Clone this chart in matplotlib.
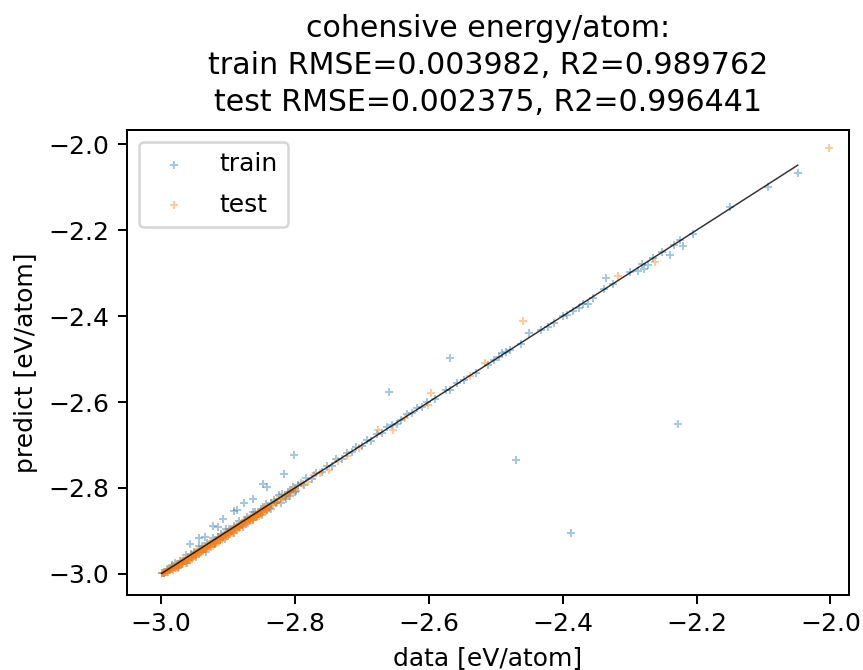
import numpy as np
import matplotlib
matplotlib.use('Agg')
import matplotlib.pyplot as plt

# cohesive energy per atom: DFT value (data) vs. model prediction (predict), eV/atom
train_data = [
    -2.999, -2.995, -2.991, -2.987, -2.983, -2.979, -2.975, -2.971, -2.967, -2.963,
    -2.959, -2.955, -2.951, -2.947, -2.943, -2.939, -2.935, -2.931, -2.927, -2.923,
    -2.919, -2.915, -2.911, -2.907, -2.903, -2.899, -2.895, -2.891, -2.887, -2.883,
    -2.879, -2.875, -2.871, -2.867, -2.863, -2.859, -2.855, -2.851, -2.847, -2.843,
    -2.839, -2.835, -2.831, -2.827, -2.823, -2.819, -2.815, -2.811, -2.807, -2.803,
    -2.799, -2.795, -2.791, -2.787, -2.783,
    -2.996, -2.989, -2.982, -2.975, -2.968, -2.961, -2.954, -2.947, -2.940, -2.933,
    -2.926, -2.919, -2.912, -2.905, -2.898, -2.891, -2.884, -2.877, -2.870, -2.863,
    -2.856, -2.849, -2.842, -2.835, -2.828, -2.821, -2.814, -2.807, -2.800,
    -2.801, -2.817, -2.848, -2.841, -2.862, -2.876, -2.886, -2.891, -2.907, -2.922,
    -2.943, -2.956, -2.935, -2.915,
    -2.775, -2.768, -2.760, -2.752, -2.745, -2.738, -2.730, -2.722, -2.715, -2.708,
    -2.700, -2.692, -2.686, -2.678, -2.670, -2.662, -2.655, -2.648, -2.641, -2.632,
    -2.625, -2.617, -2.610, -2.602, -2.590, -2.575, -2.569, -2.558, -2.548, -2.530,
    -2.512, -2.502, -2.495, -2.490, -2.484, -2.478, -2.462, -2.450, -2.432, -2.422,
    -2.413, -2.400, -2.394, -2.385, -2.376, -2.370, -2.362, -2.355, -2.338, -2.335,
    -2.325, -2.300, -2.288, -2.282, -2.279, -2.273, -2.265, -2.251, -2.240, -2.234,
    -2.225, -2.220, -2.206, -2.150, -2.093, -2.049,
    -2.569, -2.660, -2.470, -2.227, -2.388,
]
train_pred = [
    -2.999, -2.998, -2.989, -2.989, -2.979, -2.975, -2.981, -2.969, -2.970, -2.957,
    -2.967, -2.954, -2.948, -2.952, -2.936, -2.935, -2.941, -2.929, -2.930, -2.917,
    -2.927, -2.914, -2.908, -2.912, -2.896, -2.895, -2.901, -2.889, -2.890, -2.877,
    -2.887, -2.874, -2.868, -2.872, -2.856, -2.855, -2.861, -2.849, -2.850, -2.837,
    -2.847, -2.834, -2.828, -2.832, -2.816, -2.815, -2.821, -2.809, -2.810, -2.797,
    -2.807, -2.794, -2.788, -2.792, -2.776,
    -2.999, -2.995, -2.991, -2.987, -2.977, -2.975, -2.964, -2.960, -2.948, -2.948,
    -2.937, -2.931, -2.921, -2.919, -2.908, -2.904, -2.892, -2.892, -2.881, -2.875,
    -2.865, -2.863, -2.852, -2.848, -2.836, -2.836, -2.825, -2.819, -2.809,
    -2.723, -2.768, -2.791, -2.797, -2.826, -2.836, -2.851, -2.853, -2.872, -2.888,
    -2.917, -2.930, -2.915, -2.892,
    -2.778, -2.765, -2.762, -2.750, -2.748, -2.733, -2.732, -2.719, -2.717, -2.705,
    -2.702, -2.688, -2.690, -2.675, -2.672, -2.659, -2.654, -2.651, -2.642, -2.629,
    -2.626, -2.615, -2.612, -2.600, -2.592, -2.572, -2.573, -2.555, -2.549, -2.532,
    -2.514, -2.502, -2.495, -2.487, -2.483, -2.480, -2.464, -2.440, -2.433, -2.425,
    -2.416, -2.401, -2.398, -2.388, -2.382, -2.371, -2.371, -2.357, -2.338, -2.311,
    -2.326, -2.298, -2.295, -2.278, -2.291, -2.281, -2.264, -2.250, -2.258, -2.235,
    -2.223, -2.237, -2.208, -2.147, -2.099, -2.067,
    -2.498, -2.576, -2.735, -2.651, -2.905,
]

test_data = [
    -2.998, -2.996, -2.994, -2.992, -2.990, -2.988, -2.986, -2.984, -2.982, -2.980,
    -2.978, -2.976, -2.974, -2.972, -2.970, -2.968, -2.966, -2.964, -2.962, -2.960,
    -2.958, -2.956, -2.954, -2.952, -2.950, -2.948, -2.946, -2.944, -2.942, -2.940,
    -2.938, -2.936, -2.934, -2.932, -2.930, -2.928, -2.926, -2.924, -2.922, -2.920,
    -2.918, -2.916, -2.914, -2.912, -2.910, -2.908, -2.906, -2.904, -2.902, -2.900,
    -2.898, -2.896, -2.894, -2.892, -2.890, -2.888, -2.886, -2.884, -2.882, -2.880,
    -2.878, -2.876, -2.874, -2.872, -2.870, -2.868, -2.866, -2.864, -2.862, -2.860,
    -2.858, -2.856, -2.854, -2.852, -2.850, -2.848, -2.846, -2.844, -2.842, -2.840,
    -2.997, -2.995, -2.993, -2.991, -2.989, -2.987, -2.985, -2.983, -2.981, -2.979,
    -2.977, -2.975, -2.973, -2.971, -2.969, -2.967, -2.965, -2.963, -2.961, -2.959,
    -2.957, -2.955, -2.953, -2.951, -2.949, -2.947, -2.945, -2.943, -2.941, -2.939,
    -2.937, -2.935, -2.933, -2.931, -2.929, -2.927, -2.925, -2.923, -2.921, -2.919,
    -2.917, -2.915, -2.913, -2.911, -2.909, -2.907, -2.905, -2.903, -2.901, -2.899,
    -2.897, -2.895, -2.893, -2.891, -2.889, -2.887, -2.885, -2.883, -2.881, -2.879,
    -2.877, -2.875, -2.873, -2.871, -2.869, -2.867, -2.865, -2.863, -2.861, -2.859,
    -2.857, -2.855, -2.853, -2.851, -2.849, -2.847, -2.845, -2.843, -2.841,
    -2.838, -2.833, -2.828, -2.824, -2.818, -2.813, -2.808, -2.803,
    -2.836, -2.830, -2.826, -2.821, -2.815, -2.810, -2.806, -2.800, -2.795, -2.788,
    -2.780, -2.772, -2.763, -2.749, -2.735, -2.722, -2.704, -2.676, -2.654, -2.635,
    -2.601, -2.596, -2.539, -2.516, -2.460, -2.318, -2.262, -2.002,
]
test_pred = [
    -2.998, -2.998, -2.995, -2.995, -2.991, -2.990, -2.990, -2.986, -2.985, -2.985,
    -2.980, -2.982, -2.978, -2.980, -2.973, -2.975, -2.967, -2.969, -2.971, -2.964,
    -2.960, -2.962, -2.958, -2.960, -2.953, -2.955, -2.947, -2.949, -2.951, -2.944,
    -2.940, -2.942, -2.938, -2.940, -2.933, -2.935, -2.927, -2.929, -2.931, -2.924,
    -2.920, -2.922, -2.918, -2.920, -2.913, -2.915, -2.907, -2.909, -2.911, -2.904,
    -2.900, -2.902, -2.898, -2.900, -2.893, -2.895, -2.887, -2.889, -2.891, -2.884,
    -2.880, -2.882, -2.878, -2.880, -2.873, -2.875, -2.867, -2.869, -2.871, -2.864,
    -2.860, -2.862, -2.858, -2.860, -2.853, -2.855, -2.847, -2.849, -2.851, -2.844,
    -2.998, -2.998, -2.995, -2.995, -2.992, -2.992, -2.987, -2.989, -2.985, -2.986,
    -2.987, -2.979, -2.985, -2.978, -2.970, -2.976, -2.970, -2.974, -2.964, -2.967,
    -2.967, -2.959, -2.965, -2.958, -2.950, -2.956, -2.950, -2.954, -2.944, -2.947,
    -2.947, -2.939, -2.945, -2.938, -2.930, -2.936, -2.930, -2.934, -2.924, -2.927,
    -2.927, -2.919, -2.925, -2.918, -2.910, -2.916, -2.910, -2.914, -2.904, -2.907,
    -2.907, -2.899, -2.905, -2.898, -2.890, -2.896, -2.890, -2.894, -2.884, -2.887,
    -2.887, -2.879, -2.885, -2.878, -2.870, -2.876, -2.870, -2.874, -2.864, -2.867,
    -2.867, -2.859, -2.865, -2.858, -2.850, -2.856, -2.850, -2.854, -2.844,
    -2.845, -2.839, -2.836, -2.829, -2.824, -2.819, -2.812, -2.808,
    -2.840, -2.833, -2.825, -2.826, -2.817, -2.813, -2.805, -2.803, -2.796, -2.790,
    -2.785, -2.771, -2.766, -2.758, -2.738, -2.725, -2.708, -2.665, -2.665, -2.638,
    -2.607, -2.580, -2.540, -2.510, -2.411, -2.307, -2.274, -2.009,
]

title = ('cohensive energy/atom:\n'
         'train RMSE=0.003982, R2=0.989762\n'
         'test RMSE=0.002375, R2=0.996441')

fig = plt.figure(figsize=(863 / 180, 670 / 180), dpi=180)
ax = fig.add_subplot(111)
fig.subplots_adjust(left=0.147, right=0.984, bottom=0.112, top=0.806)

ax.scatter(train_data, train_pred, marker='+', s=9, linewidths=0.8,
           alpha=0.4, label='train')
ax.scatter(test_data, test_pred, marker='+', s=9, linewidths=0.8,
           alpha=0.4, label='test')

# y = x reference over the train range
lo, hi = min(train_data), max(train_data)
ax.plot([lo, hi], [lo, hi], color='black', lw=0.6, alpha=0.8)

ax.set_xlim(-3.051, -1.972)
ax.set_ylim(-3.049, -1.967)
ax.set_xlabel('data [eV/atom]')
ax.set_ylabel('predict [eV/atom]')
ax.set_title(title, linespacing=1.35, pad=7.5)
ax.legend(loc='upper left', labelspacing=0.65)

fig.savefig('out.png', dpi=180)
